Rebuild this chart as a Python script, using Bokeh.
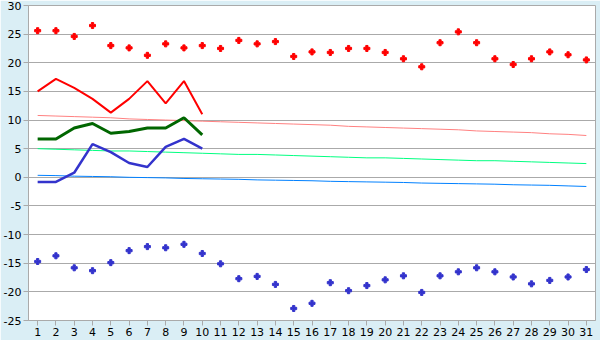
from bokeh.plotting import figure
from bokeh.models import FixedTicker, Range1d
from bokeh.embed import file_html
from bokeh.resources import INLINE

days = list(range(1, 32))
record_max = [25.6, 25.6, 24.6, 26.5, 23.0, 22.6, 21.3, 23.3, 22.6, 23.0,
              22.5, 23.9, 23.3, 23.7, 21.1, 21.9, 21.8, 22.5, 22.5, 21.8,
              20.7, 19.3, 23.5, 25.4, 23.5, 20.7, 19.7, 20.7, 21.9, 21.4, 20.5]
record_min = [-14.7, -13.7, -15.8, -16.3, -14.9, -12.8, -12.1, -12.3, -11.7, -13.3,
              -15.1, -17.7, -17.3, -18.7, -22.9, -22.0, -18.4, -19.8, -18.9, -17.9,
              -17.2, -20.1, -17.2, -16.5, -15.8, -16.5, -17.4, -18.6, -18.0, -17.4, -16.1]
obs_days = list(range(1, 11))
obs_max = [15.0, 17.2, 15.6, 13.7, 11.3, 13.7, 16.8, 12.9, 16.8, 11.0]
obs_mean = [6.7, 6.7, 8.6, 9.4, 7.7, 8.0, 8.6, 8.6, 10.4, 7.4]
obs_min = [-0.8, -0.8, 0.8, 5.8, 4.4, 2.5, 1.8, 5.3, 6.7, 5.0]
norm_max = [10.8, 10.7, 10.6, 10.5, 10.4, 10.2, 10.1, 10.0, 9.9, 9.8,
            9.7, 9.6, 9.5, 9.4, 9.3, 9.2, 9.1, 8.9, 8.8, 8.7,
            8.6, 8.5, 8.4, 8.3, 8.1, 8.0, 7.9, 7.8, 7.6, 7.5, 7.3]
norm_mean = [5.0, 4.9, 4.8, 4.7, 4.6, 4.6, 4.5, 4.4, 4.3, 4.2,
             4.1, 4.0, 4.0, 3.9, 3.8, 3.7, 3.6, 3.5, 3.4, 3.4,
             3.3, 3.2, 3.1, 3.0, 2.9, 2.9, 2.8, 2.7, 2.6, 2.5, 2.4]
norm_min = [0.35, 0.3, 0.2, 0.15, 0.1, 0.0, -0.05, -0.1, -0.2, -0.25,
            -0.3, -0.35, -0.45, -0.5, -0.55, -0.6, -0.7, -0.75, -0.8, -0.85,
            -0.9, -1.0, -1.05, -1.1, -1.15, -1.2, -1.3, -1.35, -1.4, -1.5, -1.6]
y_ticks = [-25, -20, -15, -10, -5, 0, 5, 10, 15, 20, 25, 30]

FONT = "DejaVu Sans"

p = figure(width=600, height=340, output_backend="svg", toolbar_location=None,
           x_range=Range1d(0.5, 31.5), y_range=Range1d(-25, 30),
           min_border_left=26, min_border_right=5, min_border_top=5, min_border_bottom=20)
p.border_fill_color = "#DAEEF5"
p.background_fill_color = "white"
p.outline_line_color = "#AAAAAA"
p.outline_line_width = 1

p.xgrid.grid_line_color = None
p.ygrid.grid_line_color = "#AAAAAA"
p.ygrid.ticker = FixedTicker(ticks=y_ticks)

p.yaxis.ticker = FixedTicker(ticks=y_ticks)
p.yaxis.major_label_overrides = {t: str(t) for t in y_ticks}
p.xaxis.ticker = FixedTicker(ticks=days)
for ax in (p.xaxis, p.yaxis):
    ax.axis_line_color = "#AAAAAA"
    ax.major_tick_line_color = "#AAAAAA"
    ax.minor_tick_line_color = None
    ax.major_tick_in = 0
    ax.major_tick_out = 5
    ax.major_label_text_font = FONT
    ax.major_label_text_font_size = "11px"
    ax.major_label_text_color = "black"
    ax.major_label_standoff = 2

p.line(days, norm_max, color="#FF8080", line_width=1)
p.line(days, norm_mean, color="#00FF80", line_width=1)
p.line(days, norm_min, color="#0080FF", line_width=1)

p.line(obs_days, obs_max, color="#FF0000", line_width=2)
p.line(obs_days, obs_mean, color="#006600", line_width=3)
p.line(obs_days, obs_min, color="#3333CC", line_width=2.5)

p.scatter(days, record_max, marker="plus", size=6, color="#FF0000")
p.scatter(days, record_min, marker="plus", size=6, color="#3333CC")

open("out.html", "w").write(file_html(p, INLINE))
